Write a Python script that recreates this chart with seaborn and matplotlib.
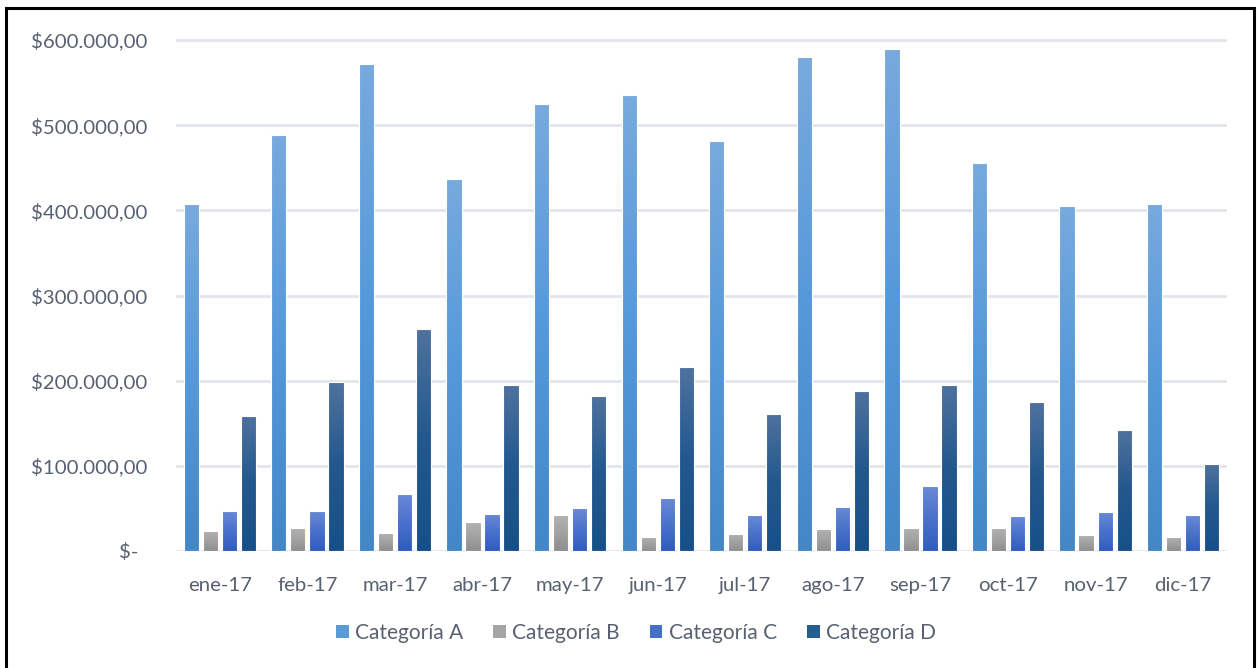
import numpy as np
import pandas as pd
import matplotlib
matplotlib.use("Agg")
import matplotlib.pyplot as plt
from matplotlib.colors import LinearSegmentedColormap
from matplotlib.patches import Patch, Rectangle
from matplotlib.transforms import ScaledTranslation
import seaborn as sns

# Monthly totals per category
meses = ["ene-17", "feb-17", "mar-17", "abr-17", "may-17", "jun-17",
         "jul-17", "ago-17", "sep-17", "oct-17", "nov-17", "dic-17"]
categorias = ["Categoría A", "Categoría B", "Categoría C", "Categoría D"]
cat_a = [408000, 489000, 572000, 437000, 525000, 535000, 482000, 580000, 590000, 456000, 405000, 407000]
cat_b = [24000, 27000, 21000, 34000, 42000, 17000, 20000, 26000, 27000, 27000, 19000, 17000]
cat_c = [47000, 47000, 67000, 44000, 50000, 62000, 42000, 52000, 76000, 41000, 46000, 42000]
cat_d = [159000, 199000, 261000, 195000, 182000, 216000, 161000, 188000, 195000, 175000, 142000, 102000]
yticks = [0, 100000, 200000, 300000, 400000, 500000, 600000]
ytick_labels = ["$-", "$100.000,00", "$200.000,00", "$300.000,00",
                "$400.000,00", "$500.000,00", "$600.000,00"]

df = pd.DataFrame({
    "mes": meses * 4,
    "categoria": np.repeat(categorias, len(meses)),
    "valor": cat_a + cat_b + cat_c + cat_d,
})

solid = ["#5B9BD5", "#A5A5A5", "#4472C4", "#255E91"]
# top -> bottom gradient stops for each series
grad = [
    ("#78AADE", "#5599DA", "#4387C7"),
    ("#B2B2B2", "#A2A2A2", "#8E8E8E"),
    ("#6A8AD6", "#4A72CC", "#2F5DBD"),
    ("#4F729E", "#22588E", "#175088"),
]

sns.set_theme(style="white")
plt.rcParams["font.family"] = ["Lato", "DejaVu Sans"]
text_color = "#586171"

fig = plt.figure(figsize=(12.57, 6.68), dpi=100)
ax = fig.add_axes([176 / 1257, 1 - 551 / 668, (1227 - 176) / 1257, (551 - 34) / 668])

sns.barplot(data=df, x="mes", y="valor", hue="categoria", order=meses,
            hue_order=categorias, palette=solid, saturation=1,
            width=0.87, gap=0.2, legend=False, ax=ax,
            edgecolor="white", linewidth=0.8)

ymax = 600000 * 1.0118

# replace flat fills with vertical gradients
patches = list(ax.patches)
n = len(meses)
for i, p in enumerate(patches):
    s = i // n
    cmap = LinearSegmentedColormap.from_list(f"g{s}", [grad[s][2], grad[s][1], grad[s][0]])
    x0, y0 = p.get_x(), p.get_y()
    w, h = p.get_width(), p.get_height()
    g = np.linspace(0, 1, 256).reshape(-1, 1)
    im = ax.imshow(g, cmap=cmap, aspect="auto", origin="lower",
                   extent=[x0, x0 + w, y0, y0 + h], zorder=p.get_zorder() - 0.01,
                   interpolation="bilinear")
    im.set_clip_path(p)
    p.set_facecolor("none")
ax.set_xlim(-0.5, len(meses) - 0.5)
ax.set_ylim(0, ymax)

ax.set_axisbelow(True)
ax.yaxis.grid(True, color="#E1E5EC", linewidth=2)
ax.xaxis.grid(False)
for sp in ax.spines.values():
    sp.set_visible(False)

ax.set_yticks(yticks)
ax.set_yticklabels(ytick_labels)
ax.set_xlabel("")
ax.set_ylabel("")
ax.tick_params(axis="y", length=0, pad=20.5, labelsize=14.7, labelcolor=text_color)
ax.tick_params(axis="x", length=0, pad=19, labelsize=14.7, labelcolor=text_color)

# accounting-style zero label sits a bit left of the number column
zlab = ax.get_yticklabels()[0]
zlab.set_transform(zlab.get_transform() + ScaledTranslation(-9 / 100, 0, fig.dpi_scale_trans))

handles = [Patch(facecolor=c, edgecolor="none") for c in solid]
fig.legend(handles, categorias, loc="center", bbox_to_anchor=(636 / 1257, 1 - 633 / 668),
           ncol=4, frameon=False, fontsize=15, labelcolor=text_color,
           handlelength=0.6, handleheight=0.6, handletextpad=0.3, columnspacing=1.45)

# outer chart frame
fig.add_artist(Rectangle((6 / 1257, -0.05), (1254 - 6) / 1257, 1.05 - 8 / 668,
                         transform=fig.transFigure, fill=False, edgecolor="black",
                         linewidth=2.2))

fig.savefig("out.png", dpi=100, facecolor="white")
